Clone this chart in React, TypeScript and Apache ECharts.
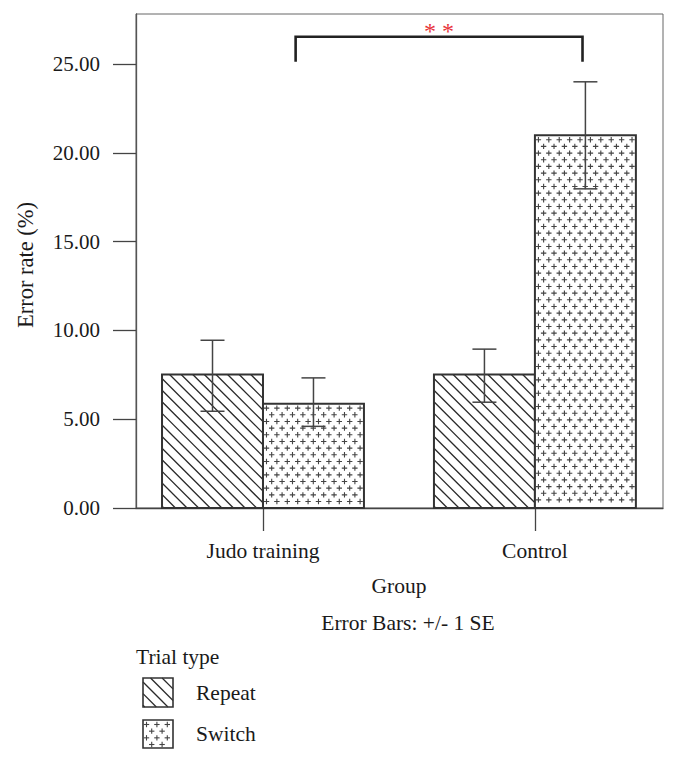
import React, { useEffect, useRef } from "react";
import * as echarts from "echarts";

// ---- data ----
const groups = ["Judo training", "Control"];
const groupPos = [1, 2];
const trialTypes = ["Repeat", "Switch"];
const repeatMean = [7.52, 7.52];
const repeatLow = [5.45, 5.96];
const repeatHigh = [9.45, 8.95];
const switchMean = [5.88, 21.0];
const switchLow = [4.6, 17.98];
const switchHigh = [7.33, 24.01];
const yTicks = [0, 5, 10, 15, 20, 25];
const yMax = 27.83;
const xMin = 0.533;
const xMax = 2.471;
const bracketX = [1.12, 2.175];
const bracketY = [25.14, 26.55];
const significance = "* *";

// ---- styles ----
const BAR_W = 0.3713; // bar width in x-axis units
const FONT = "'Liberation Serif', 'DejaVu Serif', serif";
const TXT = "#1a1a1a";

type Seg = [number, number, number, number];

function hatchSegs(x0: number, y0: number, x1: number, y1: number, step: number): Seg[] {
  const segs: Seg[] = [];
  const cStart = y0 - x1;
  const cEnd = y1 - x0;
  const base = y0 - x0;
  const kStart = Math.ceil((cStart - base) / step);
  for (let k = kStart; base + k * step <= cEnd; k++) {
    const c = base + k * step + step * 0.35;
    const xa = Math.max(x0, y0 - c);
    const xb = Math.min(x1, y1 - c);
    if (xb - xa > 0.5) segs.push([xa, xa + c, xb, xb + c]);
  }
  return segs;
}

function plusSegs(x0: number, y0: number, x1: number, y1: number): Seg[] {
  const segs: Seg[] = [];
  const dx = 10.4;
  const dy = 6.67;
  const a = 2.7;
  let r = 0;
  for (let y = y0 + 4.5; y <= y1 - 2.5; y += dy, r++) {
    for (let x = x0 + 3.5 + (r % 2) * (dx / 2); x <= x1 - 2.5; x += dx) {
      segs.push([x - a, y, x + a, y]);
      segs.push([x, y - a, x, y + a]);
    }
  }
  return segs;
}

function segPath(segs: Seg[]): string {
  return segs.map((s) => `M${s[0].toFixed(2)} ${s[1].toFixed(2)}L${s[2].toFixed(2)} ${s[3].toFixed(2)}`).join("");
}

const HATCH_STYLE = { stroke: "#2a2a2a", lineWidth: 1.3 };
const PLUS_STYLE = { stroke: "#444", lineWidth: 1.1 };

function barSeries(name: string, means: number[], kind: "hatch" | "plus", side: number) {
  return {
    type: "custom",
    name,
    coordinateSystem: "cartesian2d",
    data: groupPos.map((x, i) => [x, means[i]]),
    encode: { x: 0, y: 1 },
    z: 2,
    renderItem: (_p: any, api: any) => {
      const x = api.value(0);
      const v = api.value(1);
      const xa = side < 0 ? x - BAR_W : x;
      const xb = side < 0 ? x : x + BAR_W;
      const p0 = api.coord([xa, v]);
      const p1 = api.coord([xb, 0]);
      const x0 = p0[0], y0 = p0[1], x1 = p1[0], y1 = p1[1];
      const segs = kind === "hatch" ? hatchSegs(x0, y0, x1, y1, 11.6) : plusSegs(x0, y0, x1, y1);
      return {
        type: "group",
        children: [
          { type: "rect", shape: { x: x0, y: y0, width: x1 - x0, height: y1 - y0 }, style: { fill: "#fff", stroke: "none" } },
          {
            type: "path",
            shape: { pathData: segPath(segs) },
            style: { fill: "none", ...(kind === "hatch" ? HATCH_STYLE : PLUS_STYLE) },
          },
          {
            type: "rect",
            shape: { x: x0, y: y0, width: x1 - x0, height: y1 - y0 },
            style: { fill: "none", stroke: "#333", lineWidth: 2 },
          },
        ],
      };
    },
  };
}

function errorSeries(name: string, low: number[], high: number[], side: number) {
  return {
    type: "custom",
    name: name + " SE",
    coordinateSystem: "cartesian2d",
    data: groupPos.map((x, i) => [x + side * BAR_W / 2, low[i], high[i]]),
    encode: { x: 0, y: [1, 2] },
    z: 5,
    renderItem: (_p: any, api: any) => {
      const x = api.value(0);
      const lo = api.coord([x, api.value(1)]);
      const hi = api.coord([x, api.value(2)]);
      const cw = 12;
      const st = { stroke: "#444", lineWidth: 1.5 };
      return {
        type: "group",
        children: [
          { type: "line", shape: { x1: lo[0], y1: lo[1], x2: hi[0], y2: hi[1] }, style: st },
          { type: "line", shape: { x1: lo[0] - cw, y1: lo[1], x2: lo[0] + cw, y2: lo[1] }, style: st },
          { type: "line", shape: { x1: hi[0] - cw, y1: hi[1], x2: hi[0] + cw, y2: hi[1] }, style: st },
        ],
      };
    },
  };
}

const bracketSeries = {
  type: "custom",
  name: "significance",
  coordinateSystem: "cartesian2d",
  data: [[bracketX[0], bracketX[1], bracketY[0], bracketY[1]]],
  encode: { x: [0, 1], y: [2, 3] },
  z: 6,
  clip: false,
  renderItem: (_p: any, api: any) => {
    const a = api.coord([api.value(0), api.value(2)]);
    const b = api.coord([api.value(0), api.value(3)]);
    const c = api.coord([api.value(1), api.value(3)]);
    const d = api.coord([api.value(1), api.value(2)]);
    return {
      type: "group",
      children: [
        {
          type: "polyline",
          shape: { points: [a, b, c, d] },
          style: { fill: "none", stroke: "#222", lineWidth: 2.6 },
        },
        {
          type: "text",
          x: (b[0] + c[0]) / 2,
          y: b[1] + 6,
          style: {
            text: significance,
            fill: "#e8333a",
            fontSize: 24,
            fontFamily: FONT,
            align: "center",
            verticalAlign: "bottom",
            textAlign: "center",
            textVerticalAlign: "bottom",
          },
        },
      ],
    };
  },
};

function txt(text: string, x: number, y: number, align: string, size = 21.5, extra: any = {}) {
  return {
    type: "text",
    x,
    y,
    ...extra,
    style: {
      text,
      fill: TXT,
      fontSize: size,
      fontFamily: FONT,
      align,
      verticalAlign: "middle",
      textAlign: align,
      textVerticalAlign: "middle",
    },
  };
}

function legendGraphics() {
  const els: any[] = [];
  const boxes = [
    { x: 143, y: 678, w: 30, h: 29, kind: "hatch" },
    { x: 143, y: 720, w: 30, h: 28, kind: "plus" },
  ];
  boxes.forEach((b, i) => {
    const segs = b.kind === "hatch" ? hatchSegs(b.x, b.y, b.x + b.w, b.y + b.h, 11.6) : plusSegs(b.x, b.y, b.x + b.w, b.y + b.h);
    segs.forEach((s) =>
      els.push({
        type: "line",
        shape: { x1: s[0], y1: s[1], x2: s[2], y2: s[3] },
        style: b.kind === "hatch" ? HATCH_STYLE : PLUS_STYLE,
      })
    );
    els.push({
      type: "rect",
      shape: { x: b.x, y: b.y, width: b.w, height: b.h },
      style: { fill: "none", stroke: "#333", lineWidth: 1.6 },
    });
    els.push(txt(trialTypes[i], 196, b.y + b.h / 2, "left"));
  });
  return els;
}

export default function App() {
  const ref = useRef<HTMLDivElement>(null);
  useEffect(() => {
    if (!ref.current) return;
    const chart = echarts.init(ref.current, undefined, { renderer: "svg" });
    chart.setOption({
      animation: false,
      backgroundColor: "#fff",
      textStyle: { fontFamily: FONT },
      grid: {
        left: 136,
        right: 15,
        top: 14,
        bottom: 255,
        show: true,
        borderColor: "#666",
        borderWidth: 1,
        backgroundColor: "transparent",
      },
      xAxis: {
        type: "value",
        min: xMin,
        max: xMax,
        axisLine: { show: true, onZero: false, lineStyle: { color: "#444", width: 1.3 } },
        axisTick: { show: true, length: 23, customValues: groupPos, lineStyle: { color: "#444", width: 1.3 } },
        axisLabel: {
          customValues: groupPos,
          formatter: (v: number) => groups[groupPos.indexOf(Math.round(v))] ?? "",
          margin: 32,
          fontSize: 21.5,
          color: TXT,
          fontFamily: FONT,
        },
        splitLine: { show: false },
      },
      yAxis: {
        type: "value",
        min: 0,
        max: yMax,
        axisLine: { show: true, lineStyle: { color: "#555", width: 1.3 } },
        axisTick: { show: true, length: 23, customValues: yTicks, lineStyle: { color: "#444", width: 1.3 } },
        axisLabel: {
          customValues: yTicks,
          formatter: (v: number) => v.toFixed(2),
          margin: 36,
          fontSize: 21,
          color: TXT,
          fontFamily: FONT,
        },
        splitLine: { show: false },
      },
      series: [
        barSeries(trialTypes[0], repeatMean, "hatch", -1),
        barSeries(trialTypes[1], switchMean, "plus", 1),
        errorSeries(trialTypes[0], repeatLow, repeatHigh, -1),
        errorSeries(trialTypes[1], switchLow, switchHigh, 1),
        bracketSeries,
      ],
      graphic: [
        txt("Error rate (%)", 25, 265, "center", 22.5, { rotation: Math.PI / 2 }),
        txt("Group", 399, 586, "center"),
        txt("Error Bars: +/- 1 SE", 408, 623, "center"),
        txt("Trial type", 136, 657, "left"),
        ...legendGraphics(),
      ],
    });
    return () => chart.dispose();
  }, []);
  return (
    <div
      ref={ref}
      style={{ position: "fixed", left: 0, top: 0, width: 678, height: 763, background: "#fff" }}
    />
  );
}
